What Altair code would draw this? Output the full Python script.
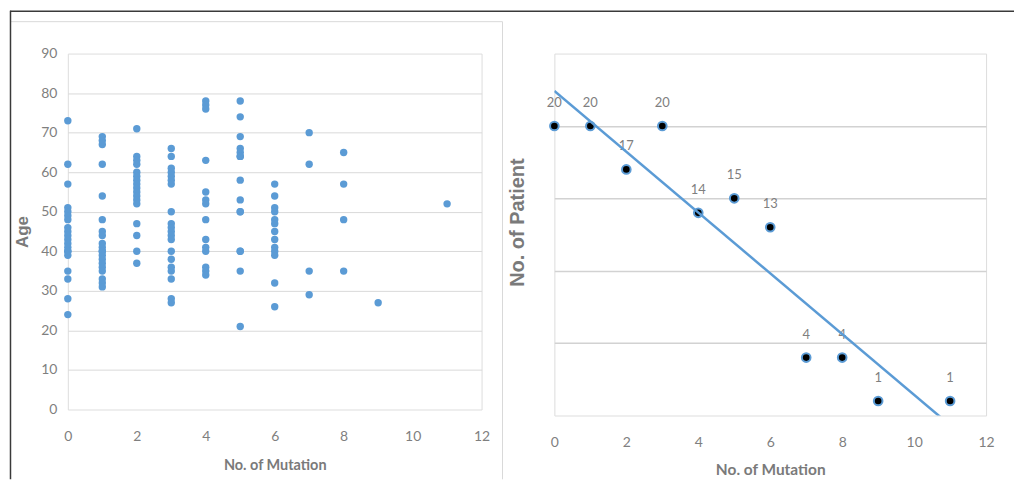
import altair as alt
import pandas as pd

# ---- data: left scatter (age of each patient by number of mutations) ----
ages_m0 = [73, 62, 57, 51, 50, 49, 48, 46, 45, 44, 43, 42, 41, 40, 40, 39, 35, 33, 28, 24]
ages_m1 = [69, 68, 67, 62, 54, 48, 45, 44, 42, 41, 40, 40, 39, 38, 37, 36, 35, 33, 32, 31]
ages_m2 = [71, 64, 63, 62, 60, 59, 58, 57, 56, 55, 54, 53, 52, 47, 44, 40, 37]
ages_m3 = [66, 64, 61, 60, 59, 58, 57, 50, 47, 46, 45, 44, 43, 40, 38, 36, 35, 33, 28, 27]
ages_m4 = [78, 77, 76, 63, 55, 53, 52, 48, 43, 41, 40, 36, 35, 34]
ages_m5 = [78, 74, 69, 66, 65, 64, 64, 58, 53, 50, 50, 40, 40, 35, 21]
ages_m6 = [57, 54, 51, 50, 48, 47, 45, 43, 41, 40, 39, 32, 26]
ages_m7 = [70, 62, 35, 29]
ages_m8 = [65, 57, 48, 35]
ages_m9 = [27]
ages_m11 = [52]

# ---- data: right chart (patients per mutation count) ----
mutation_counts = [0, 1, 2, 3, 4, 5, 6, 7, 8, 9, 11]
patient_counts = [20, 20, 17, 20, 14, 15, 13, 4, 4, 1, 1]

x_ticks = [0, 2, 4, 6, 8, 10, 12]
age_ticks = [0, 10, 20, 30, 40, 50, 60, 70, 80, 90]
patient_ticks = [0, 5, 10, 15, 20, 25]

groups = [(0, ages_m0), (1, ages_m1), (2, ages_m2), (3, ages_m3), (4, ages_m4),
          (5, ages_m5), (6, ages_m6), (7, ages_m7), (8, ages_m8), (9, ages_m9),
          (11, ages_m11)]
left_rows = [{"mutation": m, "age": a} for m, ages in groups for a in ages]
left_df = pd.DataFrame(left_rows)
right_df = pd.DataFrame({"mutation": mutation_counts, "patients": patient_counts})

NARROW = "Lato"
WIDE = "Liberation Sans"
LABEL_C = "#7f7f7f"
TITLE_C = "#7a7a7a"
BLUE = "#5b9bd5"
GRID_C = "#d9d9d9"

deco_df = pd.DataFrame({"k": [0]})

# decorative page frame lines (relative to left plot origin)
top_dark = alt.Chart(deco_df).mark_rule(color="#3a3a3a", strokeWidth=1.5).encode(
    x=alt.value(-58), x2=alt.value(949), y=alt.value(-42.5))
left_dark = alt.Chart(deco_df).mark_rule(color="#3a3a3a", strokeWidth=1.5).encode(
    x=alt.value(-57.5), y=alt.value(-43), y2=alt.value(427))
gray_top = alt.Chart(deco_df).mark_rule(color="#d9d9d9", strokeWidth=1).encode(
    x=alt.value(-57), x2=alt.value(436), y=alt.value(-32))
gray_right = alt.Chart(deco_df).mark_rule(color="#d9d9d9", strokeWidth=1).encode(
    x=alt.value(436), y=alt.value(-32), y2=alt.value(427))

left_points = alt.Chart(left_df).mark_circle(size=55, color=BLUE, opacity=1).encode(
    x=alt.X("mutation:Q", scale=alt.Scale(domain=[0, 12], nice=False),
            axis=alt.Axis(values=x_ticks, grid=False, domain=False, ticks=False, tickSize=0,
                          labelFlush=False, labelPadding=27, labelBaseline="middle",
                          labelFont=NARROW, labelFontSize=14, labelColor=LABEL_C,
                          title="No. of Mutation", titleFont=NARROW, titleFontSize=14.5,
                          titleFontWeight="bold", titleColor=TITLE_C,
                          titleY=56, titleBaseline="middle")),
    y=alt.Y("age:Q", scale=alt.Scale(domain=[0, 90], nice=False),
            axis=alt.Axis(values=age_ticks, grid=True, gridColor=GRID_C, gridWidth=1,
                          gridOpacity={"condition": {"test": "datum.value === 0 || datum.value === 90", "value": 0}, "value": 1},
                          domain=False, ticks=False, tickSize=0, labelPadding=11,
                          labelFlush=False,
                          labelFont=NARROW, labelFontSize=14, labelColor=LABEL_C,
                          title="Age", titleFont=WIDE, titleFontSize=17, titleFontWeight="bold",
                          titleColor=TITLE_C, titleX=-45, titleY=178.5, titleAngle=270,
                          titleAlign="center", titleBaseline="middle")),
)

left = alt.layer(gray_top, gray_right, top_dark, left_dark, left_points).properties(
    width=415, height=357)

rbase = alt.Chart(right_df).encode(
    x=alt.X("mutation:Q", scale=alt.Scale(domain=[0, 12], nice=False),
            axis=alt.Axis(values=x_ticks, grid=False, domain=False, ticks=False, tickSize=0,
                          labelFlush=False, labelPadding=27, labelBaseline="middle",
                          labelFont=NARROW, labelFontSize=14, labelColor=LABEL_C,
                          title="No. of Mutation", titleFont=NARROW, titleFontSize=15.5,
                          titleFontWeight="bold", titleColor=TITLE_C,
                          titleY=54, titleBaseline="middle")),
    y=alt.Y("patients:Q", scale=alt.Scale(domain=[0, 25], nice=False),
            axis=alt.Axis(values=patient_ticks, grid=True, gridColor="#d2d2d2", gridWidth=1.5,
                          gridOpacity={"condition": {"test": "datum.value === 0 || datum.value === 25", "value": 0}, "value": 1},
                          domain=False, ticks=False, tickSize=0, labels=False,
                          title="No. of Patient", titleFont=WIDE, titleFontSize=20,
                          titleFontWeight="bold", titleColor=TITLE_C, titleX=-37, titleY=169,
                          titleAngle=270, titleAlign="center", titleBaseline="middle")),
)

r_points = rbase.mark_circle(size=75, fill="black", stroke=BLUE, strokeWidth=2, opacity=1, fillOpacity=1)
r_labels = rbase.mark_text(dy=-23, color=LABEL_C, font=NARROW, fontSize=13).encode(text="patients:Q")
r_trend = alt.Chart(right_df).transform_regression(
    "mutation", "patients", extent=[0, 12]
).mark_line(color=BLUE, strokeWidth=2.5, clip=True).encode(
    x=alt.X("mutation:Q"), y=alt.Y("patients:Q"))

right = alt.layer(r_points, r_labels, r_trend).properties(width=433, height=363)

chart = alt.hconcat(left, right, spacing=73, bounds="flush").properties(
    padding={"left": 0, "top": 0, "right": 0, "bottom": 0}
).configure_view(stroke="#9ad9f3", strokeWidth=2).configure(background="white")

chart.save("out.html", embed_options={"renderer": "svg", "actions": False})
